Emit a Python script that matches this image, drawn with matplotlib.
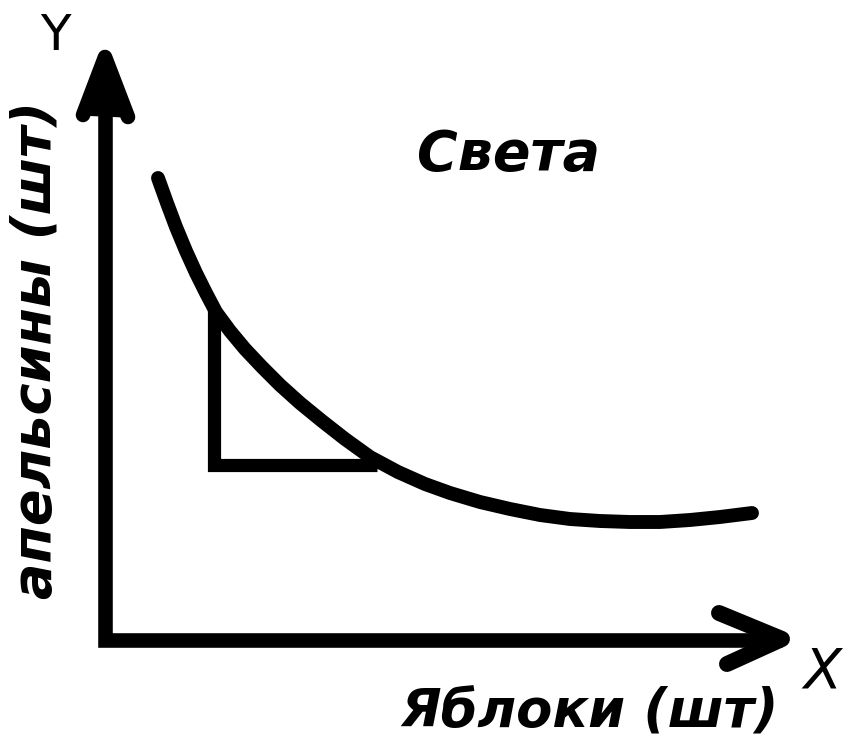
import numpy as np
import matplotlib.pyplot as plt

# координаты в пикселях картинки (y вниз)
curve_x = [158, 167, 176, 186, 196, 206, 216, 230, 245, 262, 280, 300, 322, 345, 370, 398, 425, 450, 480, 510, 540, 570, 600, 630, 660, 690, 720, 752]
curve_y = [178, 203, 227, 251, 273, 293, 312, 331, 349, 367, 385, 403, 421, 439, 457, 472, 484, 493, 502, 509, 515, 519, 521, 522, 522, 520, 517, 513]

axis_x = [105, 105, 782]
axis_y = [57, 640, 640]

tri_x = [214, 214, 377]
tri_y = [310, 465, 465]

arrow_y_x = [83, 105, 128]
arrow_y_y = [115, 57, 117]
arrow_x_x = [719, 782, 727]
arrow_x_y = [613, 639, 664]

fig = plt.figure(figsize=(8.43, 7.46), dpi=100)
ax = fig.add_axes([0, 0, 1, 1])
ax.set_xlim(0, 843)
ax.set_ylim(746, 0)
ax.axis('off')

lw = 10.5
ax.plot(axis_x, axis_y, color='black', lw=lw, solid_joinstyle='miter', solid_capstyle='butt')
ax.plot(arrow_y_x, arrow_y_y, color='black', lw=lw, solid_joinstyle='round', solid_capstyle='round')
ax.fill(arrow_y_x, arrow_y_y, color='black')
ax.plot(arrow_x_x, arrow_x_y, color='black', lw=lw + 1, solid_joinstyle='round', solid_capstyle='round')
ax.plot(tri_x, tri_y, color='black', lw=9.5, solid_joinstyle='miter', solid_capstyle='butt')
ax.plot(curve_x, curve_y, color='black', lw=10, solid_capstyle='round', solid_joinstyle='round')

fnt = ['DejaVu Sans']
ax.text(55, 36, 'Y', fontsize=36, family=fnt, ha='center', va='center')
ax.text(822, 672, 'X', fontsize=40, family=fnt, style='italic', ha='center', va='center')
ax.text(509, 155, 'Света', fontsize=40, family=fnt, weight='bold', style='italic', ha='center', va='center')
ax.text(590, 713, 'Яблоки (шт)', fontsize=38, family=fnt, weight='bold', style='italic', ha='center', va='center')
ax.text(36, 350, 'апельсины (шт)', fontsize=39, family=fnt, weight='bold', style='italic',
        rotation=90, ha='center', va='center')

fig.savefig('out.png', dpi=100)
